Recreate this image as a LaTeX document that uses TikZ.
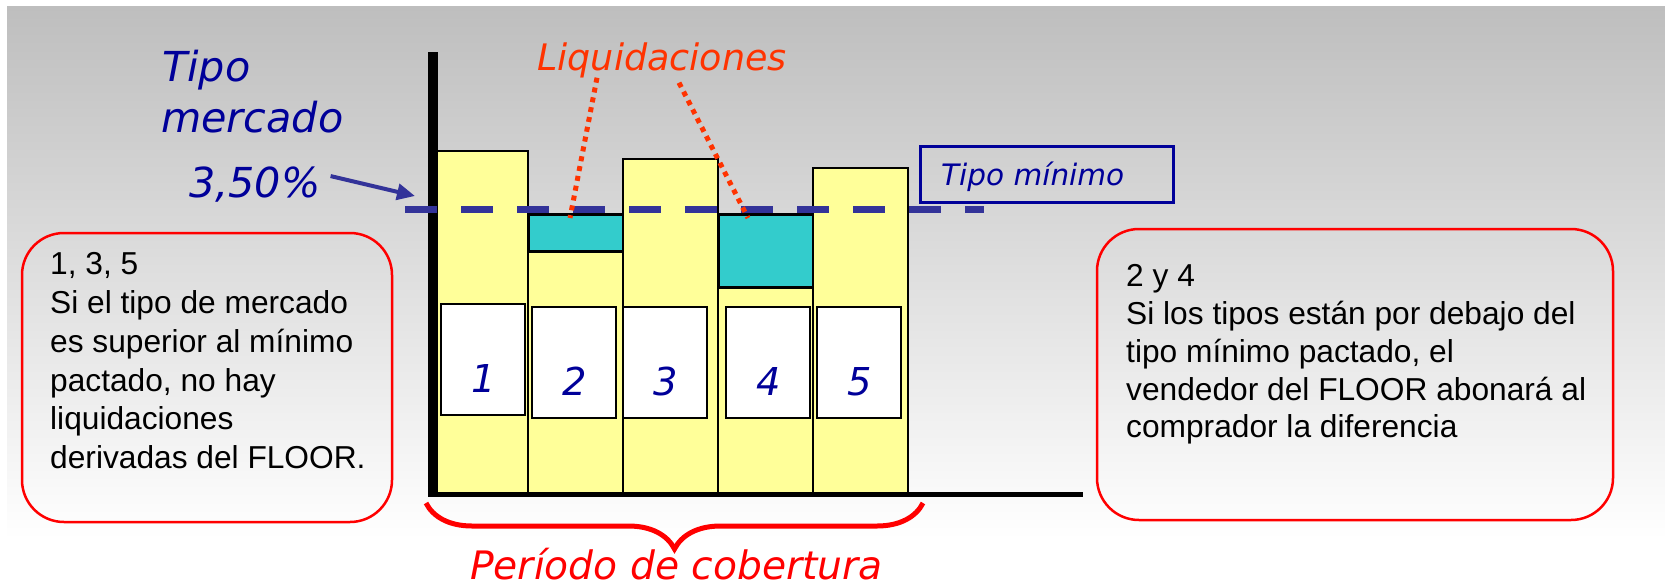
\documentclass[tikz,border=0pt]{standalone}
\usepackage{fontspec}
\setmainfont{Liberation Sans}
\newfontfamily\labelfont{DejaVu Sans}
\usepackage{tikz}
\usetikzlibrary{calc}
\usetikzlibrary{arrows.meta}
\usetikzlibrary{decorations.pathreplacing}

\definecolor{navy}{HTML}{000099}
\definecolor{rateblue}{HTML}{333399}
\definecolor{liqred}{HTML}{FF3300}
\definecolor{baryellow}{HTML}{FFFF99}
\definecolor{liqcyan}{HTML}{33CCCC}
\definecolor{bggray}{HTML}{BEBEBE}

\begin{document}
\begin{tikzpicture}[x=1pt,y=-1pt,
        yellowbar/.style={draw=black,line width=2pt,fill=baryellow},
        cyanbar/.style={draw=black,line width=3pt,fill=liqcyan},
        numbox/.style={draw=black,line width=2pt,fill=white},
        notebox/.style={draw=red,line width=2.5pt,rounded corners=42pt},
        notetext/.style={anchor=north west,inner sep=0pt,align=left},
        biglabel/.style={inner sep=0pt,anchor=base west,font=\labelfont\itshape\fontsize{41.3}{48}\selectfont}]
        \useasboundingbox (0,0) rectangle (1665,587);
        \shade[top color=bggray,bottom color=white] (7,6) rectangle (1665,540);

        \draw[notebox] (22,233) rectangle (392,522);
        \draw[notebox] (1097,229) rectangle (1613,520);
        \node[notetext,font=\fontsize{31.7}{38.8}\selectfont] (note135) at (50,252.3) {1, 3, 5\\Si el tipo de mercado\\es superior al mínimo\\pactado, no hay\\liquidaciones\\derivadas del FLOOR.};
        \node[notetext,font=\fontsize{31.7}{37.8}\selectfont] (note24) at (1126,264.3) {2 y 4\\Si los tipos están por debajo del\\tipo mínimo pactado, el\\vendedor del FLOOR abonará al\\comprador la diferencia};

        \filldraw[yellowbar] (437,151) rectangle (528,495);
        \filldraw[yellowbar] (528,251) rectangle (623,495);
        \filldraw[cyanbar] (528,214) rectangle (623,251);
        \filldraw[yellowbar] (623,159) rectangle (718,495);
        \filldraw[yellowbar] (718,287) rectangle (813,495);
        \filldraw[cyanbar] (718,214) rectangle (813,287);
        \filldraw[yellowbar] (813,168) rectangle (908,495);
        \foreach \x/\y/\n in {441/304/1,532/307/2,623/307/3,726/307/4,817/307/5}{
            \filldraw[numbox] (\x,\y) rectangle ++(84,111);
            \node[anchor=base,inner sep=0pt,text=navy,font=\labelfont\itshape\fontsize{38.4}{44}\selectfont] (num\n) at (\x+43,\y+88) {\n};
        }

        \draw[line width=9.5pt] (433,52) -- (433,497);
        \draw[line width=4.5pt] (428,494.5) -- (1083,494.5);

        \draw[draw=navy,line width=3pt] (920,146) rectangle (1173,202);
        \node[inner sep=0pt,anchor=base west,text=navy,font=\labelfont\itshape\fontsize{29.5}{36}\selectfont] (minimo) at (941,185) {Tipo mínimo};
        \draw[rateblue,line width=7pt,dash pattern=on 32pt off 24pt] (405,209) -- (984,209);

        \node[biglabel,text=navy] (tipo) at (162,81) {Tipo};
        \node[biglabel,text=navy] (mercado) at (161,132) {mercado};
        \node[biglabel,text=navy] (rate) at (189,197) {3,50\%};
        \coordinate (axispt) at (415,196);
        \draw[rateblue,line width=4pt,-{Triangle[length=18pt,width=16pt]}] ([xshift=10pt,yshift=8pt]rate.east) -- (axispt);

        \node[biglabel,text=liqred,font=\labelfont\itshape\fontsize{36.5}{42}\selectfont] (liq) at (537,70) {Liquidaciones};
        \coordinate (liqa) at (570,218);
        \coordinate (liqb) at (748,218);
        \draw[liqred,line width=5pt,dash pattern=on 5pt off 5pt] ([xshift=-65pt]liq.south) -- (liqa);
        \draw[liqred,line width=5pt,dash pattern=on 5pt off 5pt] ([xshift=17pt,yshift=-5pt]liq.south) -- (liqb);

        \coordinate (bracer) at (923,503);
        \coordinate (bracel) at (426,503);
        \draw[red,line width=5pt,decorate,decoration={brace,amplitude=46pt}] (bracer) -- (bracel);
        \node[biglabel,text=red,font=\labelfont\itshape\fontsize{39.2}{46}\selectfont] (periodo) at (470,579) {Período de cobertura};
    \end{tikzpicture}
\end{document}
